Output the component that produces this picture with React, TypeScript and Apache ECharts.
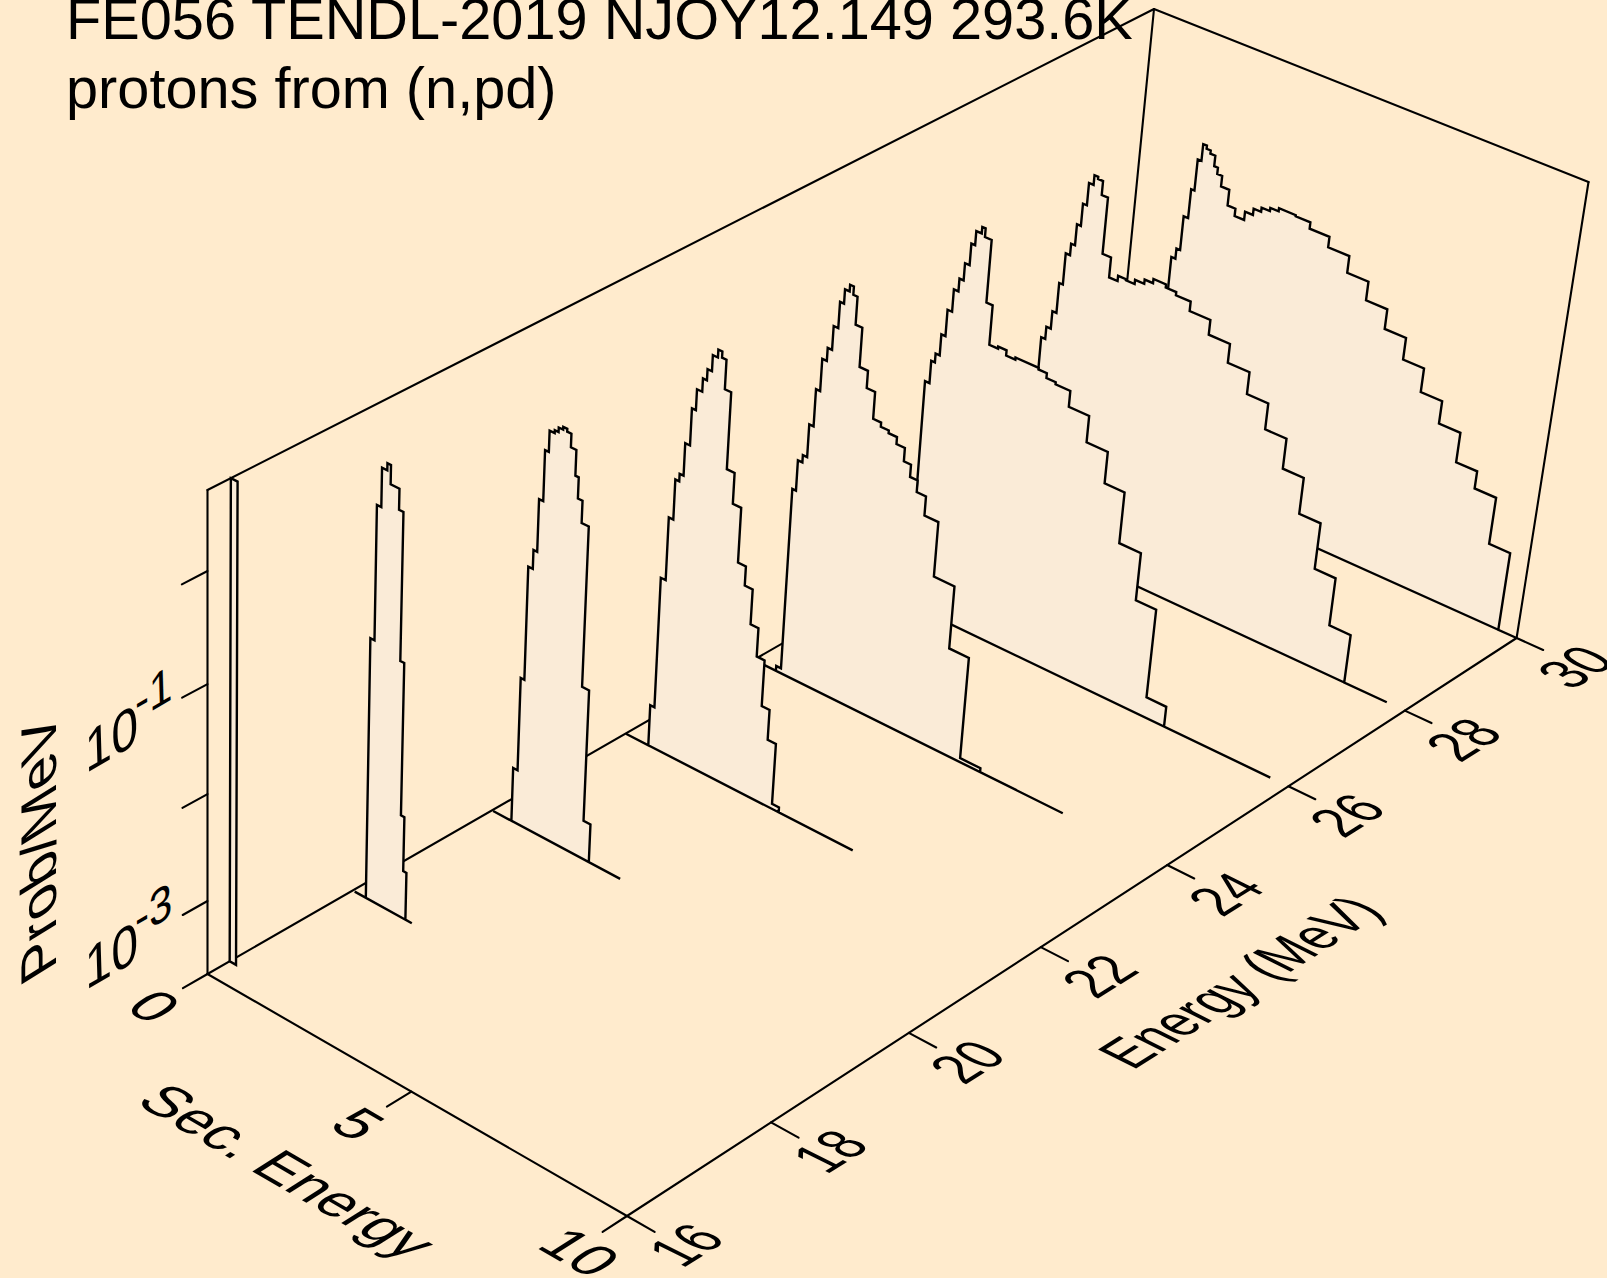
import React, { useEffect, useRef } from "react";
import * as echarts from "echarts";

const titleLines = ["FE056 TENDL-2019 NJOY12.149 293.6K", "protons from (n,pd)"];
const energyTicks = [16, 18, 20, 22, 24, 26, 28, 30];
const secEnergyTicks = [0, 5, 10];
const logProbTicks = [-3, -2, -1, 0];
const logProbLabelled = [-3, -1];
const LOG_MIN = Math.log10(2e-4);
const LOG_MAX = Math.log10(5);
const F = -3.7;

const incident = [30, 28, 26, 24, 22, 20, 18, 16.3];
const edges30 = [0.01, 1.0, 1.1, 1.19, 1.3, 1.38, 1.47, 1.56, 1.66, 1.78, 1.87, 1.99, 2.19, 2.38, 2.61, 2.8, 2.98, 3.18, 3.38, 3.78, 4.13, 4.6, 5.1, 5.6, 6.1, 6.6, 7.09, 7.59, 8.09, 8.58, 9.08, 9.57, 10];
const log30 = [F, -1.51, -1.41, -1.08, -0.8, -0.5, -0.34, -0.37, -0.4, -0.5, -0.56, -0.66, -0.81, -0.88, -0.8, -0.74, -0.7, -0.67, -0.64, -0.65, -0.71, -0.81, -0.97, -1.15, -1.34, -1.55, -1.78, -2.0, -2.29, -2.46, -2.92, F];
const edges28 = [0.01, 0.71, 0.81, 0.92, 1.02, 1.11, 1.215, 1.31, 1.405, 1.5, 1.61, 1.7, 1.82, 1.97, 2.175, 2.38, 2.57, 2.78, 3.0, 3.2, 3.5, 3.75, 4.1, 4.59, 5.09, 5.6, 6.1, 6.6, 7.09, 7.59, 8.08, 8.58, 9.58];
const log28 = [F, -1.72, -1.6, -1.43, -1.14, -0.84, -0.73, -0.53, -0.32, -0.11, -0.02, -0.04, -0.17, -0.7, -0.89, -0.84, -0.85, -0.81, -0.77, -0.73, -0.76, -0.79, -0.88, -1.02, -1.2, -1.41, -1.66, -1.95, -2.3, -2.75, -3.22, F];
const edges26 = [0.01, 0.78, 0.89, 0.98, 1.08, 1.18, 1.29, 1.4, 1.5, 1.61, 1.7, 1.83, 1.91, 2.07, 2.22, 2.43, 2.63, 2.85, 3.4, 3.6, 3.82, 4.17, 4.65, 5.15, 5.62, 6.13, 6.61, 7.08, 9.58];
const log26 = [F, -1.49, -1.275, -1.19, -0.99, -0.74, -0.53, -0.41, -0.25, -0.05, 0.08, 0.14, 0.06, -0.52, -0.89, -0.87, -0.92, -0.9, -0.915, -0.96, -0.98, -1.13, -1.38, -1.68, -2.17, -2.63, -3.5, F];
const edges24 = [0.01, 0.56, 0.68, 0.77, 0.88, 0.985, 1.09, 1.19, 1.3, 1.405, 1.515, 1.61, 1.72, 1.81, 1.91, 2.07, 2.27, 2.47, 2.66, 2.85, 3.05, 3.25, 3.42, 3.6, 3.82, 4.15, 4.64, 5.11, 5.6, 7.57];
const log24 = [F, -3.65, -1.88, -1.59, -1.52, -1.21, -0.86, -0.56, -0.44, -0.22, 0.02, 0.15, 0.21, 0.135, -0.12, -0.48, -0.64, -0.89, -0.93, -0.955, -1.02, -1.145, -1.26, -1.37, -1.55, -2.07, -2.67, -3.66, F];
const edges22 = [0.01, 0.575, 0.68, 0.8, 0.91, 1.005, 1.1, 1.215, 1.31, 1.435, 1.53, 1.635, 1.755, 1.85, 1.955, 2.105, 2.29, 2.49, 2.68, 2.87, 3.06, 3.25, 3.44, 3.64, 3.81, 5.6];
const log22 = [F, -3.3, -2.04, -1.445, -1.07, -1.0, -0.7, -0.36, -0.17, -0.05, 0.05, 0.195, 0.265, 0.21, -0.055, -0.755, -1.04, -1.55, -1.73, -2.06, -2.33, -2.77, -3.06, -3.65, F];
const edges20 = [0.03, 0.49, 0.6, 0.69, 0.8, 0.89, 0.99, 1.08, 1.2, 1.29, 1.395, 1.49, 1.59, 1.72, 1.8, 1.91, 2.08, 2.25, 2.42, 3.19];
const log20 = [F, -3.18, -2.29, -1.23, -1.055, -0.575, -0.115, 0.074, 0.1, 0.14, 0.165, 0.14, 0.02, -0.21, -0.4, -0.6, -2.08, -3.33, F];
const edges18 = [0.05, 0.33, 0.43, 0.535, 0.66, 0.745, 0.955, 1.06, 1.155, 1.24, 1.32, 1.48];
const log18 = [F, -1.245, -0.03, 0.315, 0.377, 0.21, 0.025, -1.31, -2.73, -3.245, F];
const edges16 = [0.0, 0.16];
const log16 = [0.7];
const allEdges = [edges30, edges28, edges26, edges24, edges22, edges20, edges18, edges16];
const allLogs = [log30, log28, log26, log24, log22, log20, log18, log16];

type Pt = [number, number];

// Projective map of the unit square onto a quadrilateral (p00, p10 at u=1, p11, p01 at v=1).
function squareToQuad(p00: Pt, p10: Pt, p11: Pt, p01: Pt) {
  const dx1 = p10[0] - p11[0], dx2 = p01[0] - p11[0], sx = p00[0] - p10[0] + p11[0] - p01[0];
  const dy1 = p10[1] - p11[1], dy2 = p01[1] - p11[1], sy = p00[1] - p10[1] + p11[1] - p01[1];
  const den = dx1 * dy2 - dx2 * dy1;
  const g = (sx * dy2 - dx2 * sy) / den;
  const h = (dx1 * sy - sx * dy1) / den;
  const a = p10[0] - p00[0] + g * p10[0], b = p01[0] - p00[0] + h * p01[0];
  const d = p10[1] - p00[1] + g * p10[1], e = p01[1] - p00[1] + h * p01[1];
  return (u: number, v: number): Pt => {
    const w = g * u + h * v + 1;
    return [(a * u + b * v + p00[0]) / w, (d * u + e * v + p00[1]) / w];
  };
}
const floorMap = squareToQuad([207.5, 974], [1110, 455], [1516.6, 638], [627, 1216]);
const topMap = squareToQuad([207.5, 490], [1154, 9], [1588.5, 182], [654, 722]);
const Q = 1.064;
function project(energy: number, sec: number, logP: number): Pt {
  const u = (energy - 16) / 14, v = sec / 10;
  const c = Math.min(LOG_MAX, Math.max(LOG_MIN, logP));
  const t = (c - LOG_MIN) / (LOG_MAX - LOG_MIN);
  const f = t / (t + Q * (1 - t));
  const a = floorMap(u, v), b = topMap(u, v);
  return [a[0] + (b[0] - a[0]) * f, a[1] + (b[1] - a[1]) * f];
}

// Any affine text placement: u = image of the baseline unit, w = image of the glyph-down unit.
function affineText(text: string, pos: Pt, u: Pt, w: Pt, fontSize: number) {
  const E = (u[0] + w[1]) / 2, Ff = (u[0] - w[1]) / 2, G = (u[1] + w[0]) / 2, H = (u[1] - w[0]) / 2;
  const q = Math.hypot(E, H), r = Math.hypot(Ff, G);
  const a1 = Math.atan2(G, Ff), a2 = Math.atan2(H, E);
  const theta = (a2 - a1) / 2, phi = (a2 + a1) / 2;
  return {
    type: "group", x: pos[0], y: pos[1], rotation: -phi, scaleX: q + r, scaleY: q - r, silent: true,
    children: [{
      type: "text", rotation: -theta,
      style: { text, x: 0, y: 0, align: "center", verticalAlign: "middle", fill: "#000",
        fontFamily: "Liberation Sans", fontSize },
    }],
  };
}

const S = 57.7;
const uE: Pt = [0.71, -0.444], wE: Pt = [0.96, 0.478];
const uS: Pt = [0.87, 0.505], wS: Pt = [-0.85, 0.54];
const uZ: Pt = [0.83, -0.48], wZ: Pt = [0.03, 1.0];
const uP: Pt = [0, -1.01], wP: Pt = [0.87, -0.54];

function buildGraphics() {
  const els: any[] = [];
  els.push({ type: "text", x: 66, y: 19, silent: true, style: { text: titleLines[0], fontFamily: "Liberation Sans", fontSize: S, fill: "#000", align: "left", verticalAlign: "middle" } });
  els.push({ type: "text", x: 66, y: 88, silent: true, style: { text: titleLines[1], fontFamily: "Liberation Sans", fontSize: S, fill: "#000", align: "left", verticalAlign: "middle" } });
  energyTicks.forEach((e) => {
    const p = project(e, 10, LOG_MIN);
    els.push(affineText(String(e), [p[0] + 59, p[1] + 29], uE, wE, S));
  });
  secEnergyTicks.forEach((s) => {
    const p = project(16, s, LOG_MIN);
    const off: Pt = s === 10 ? [-47, 36] : [-53, 32];
    els.push(affineText(String(s), [p[0] + off[0], p[1] + off[1]], uS, wS, S));
  });
  logProbLabelled.forEach((z) => {
    const p = project(16, 0, z);
    els.push(affineText("10", [p[0] - 96, p[1] + 54], uZ, wZ, S));
    els.push(affineText(String(z), [p[0] - 54, p[1] + 8], uZ, wZ, 50));
  });
  els.push(affineText("Prob/MeV", [38, 849], uP, wP, S));
  els.push(affineText("Sec. Energy", [288, 1171], uS, wS, S));
  els.push(affineText("Energy (MeV)", [1240, 982], uE, wE, S));
  return els;
}

type Seg = [number, number, number, number, number, number];
function buildFrame(): Seg[] {
  const segs: Seg[] = [
    [16, 0, LOG_MIN, 16, 0, LOG_MAX],
    [16, 0, LOG_MAX, 30, 0, LOG_MAX],
    [30, 0, LOG_MAX, 30, 10, LOG_MAX],
    [30, 10, LOG_MAX, 30, 10, LOG_MIN],
    [30, 0, LOG_MAX, 30, 0, LOG_MIN],
    [16, 0, LOG_MIN, 30, 0, LOG_MIN],
    [16, 0, LOG_MIN, 16, 10, LOG_MIN],
    [16, 10, LOG_MIN, 30, 10, LOG_MIN],
  ];
  energyTicks.forEach((e) => segs.push([e, 10, LOG_MIN, e, 10.62, LOG_MIN]));
  secEnergyTicks.forEach((s) => segs.push([16, s, LOG_MIN, 15.67, s, LOG_MIN]));
  logProbTicks.forEach((z) => segs.push([16, 0, z, 15.67, 0, z]));
  return segs;
}

export default function App() {
  const ref = useRef<HTMLDivElement>(null);
  useEffect(() => {
    document.body.style.margin = "0";
    document.documentElement.style.overflow = "hidden";
    const chart = echarts.init(ref.current!, undefined, { renderer: "svg" });
    const frame = buildFrame();
    chart.setOption({
      animation: false,
      backgroundColor: "#FFEBCD",
      grid: { left: 0, right: 0, top: 0, bottom: 0 },
      xAxis: { type: "value", min: 0, max: 1607, show: false },
      yAxis: { type: "value", min: 0, max: 1278, inverse: true, show: false },
      tooltip: { show: false },
      graphic: { elements: buildGraphics() },
      series: [
        {
          type: "custom", coordinateSystem: "cartesian2d", z: 1, silent: true, clip: false,
          data: frame.map((_, i) => [i]),
          renderItem: (params: any, api: any) => {
            const s = frame[params.dataIndex];
            const a = api.coord(project(s[0], s[1], s[2]));
            const b = api.coord(project(s[3], s[4], s[5]));
            return { type: "line", shape: { x1: a[0], y1: a[1], x2: b[0], y2: b[1] }, style: { stroke: "#000", lineWidth: 2.1, lineCap: "round" } };
          },
        },
        {
          type: "custom", coordinateSystem: "cartesian2d", z: 2, silent: true, clip: false,
          data: incident.map((e) => [e]),
          renderItem: (params: any, api: any) => {
            const i = params.dataIndex;
            const e = incident[i], xs = allEdges[i], ys = allLogs[i];
            const pts: number[][] = [api.coord(project(e, xs[0], LOG_MIN))];
            ys.forEach((z: number, k: number) => {
              pts.push(api.coord(project(e, xs[k], z)));
              pts.push(api.coord(project(e, xs[k + 1], z)));
            });
            pts.push(api.coord(project(e, xs[xs.length - 1], LOG_MIN)));
            return { type: "polygon", shape: { points: pts }, style: { fill: "#FAEBD7", stroke: "#000", lineWidth: 2.4, lineJoin: "miter" } };
          },
        },
      ],
    });
    return () => chart.dispose();
  }, []);
  return <div ref={ref} style={{ width: 1607, height: 1278 }} />;
}
